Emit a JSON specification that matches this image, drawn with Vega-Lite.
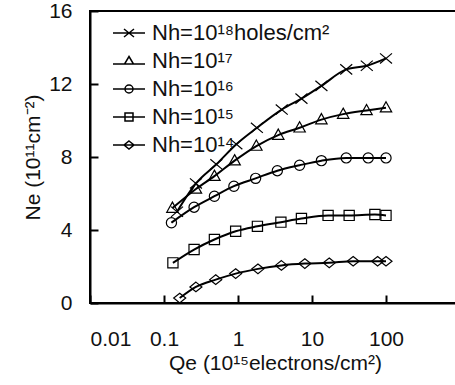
{
  "$schema": "https://vega.github.io/schema/vega-lite/v6.json",
  "width": 370,
  "height": 292,
  "autosize": {"type": "none"},
  "padding": {"left": 90, "top": 11, "right": 0, "bottom": 82},
  "background": "white",
  "data": {
    "values": [
      {"Nh": "Nh=10¹⁸holes/cm²", "Qe": 0.15, "Ne": 5.0},
      {"Nh": "Nh=10¹⁸holes/cm²", "Qe": 0.27, "Ne": 6.55},
      {"Nh": "Nh=10¹⁸holes/cm²", "Qe": 0.51, "Ne": 7.6},
      {"Nh": "Nh=10¹⁸holes/cm²", "Qe": 0.95, "Ne": 8.7},
      {"Nh": "Nh=10¹⁸holes/cm²", "Qe": 1.8, "Ne": 9.6},
      {"Nh": "Nh=10¹⁸holes/cm²", "Qe": 3.9, "Ne": 10.6},
      {"Nh": "Nh=10¹⁸holes/cm²", "Qe": 7.2, "Ne": 11.2},
      {"Nh": "Nh=10¹⁸holes/cm²", "Qe": 13.4, "Ne": 11.9},
      {"Nh": "Nh=10¹⁸holes/cm²", "Qe": 29, "Ne": 12.8},
      {"Nh": "Nh=10¹⁸holes/cm²", "Qe": 55, "Ne": 13.0},
      {"Nh": "Nh=10¹⁸holes/cm²", "Qe": 100, "Ne": 13.4},
      {"Nh": "Nh=10¹⁷", "Qe": 0.13, "Ne": 5.2},
      {"Nh": "Nh=10¹⁷", "Qe": 0.27, "Ne": 6.25},
      {"Nh": "Nh=10¹⁷", "Qe": 0.48, "Ne": 6.95},
      {"Nh": "Nh=10¹⁷", "Qe": 0.9, "Ne": 7.8},
      {"Nh": "Nh=10¹⁷", "Qe": 1.77, "Ne": 8.6},
      {"Nh": "Nh=10¹⁷", "Qe": 3.5, "Ne": 9.2},
      {"Nh": "Nh=10¹⁷", "Qe": 6.8, "Ne": 9.6},
      {"Nh": "Nh=10¹⁷", "Qe": 13.4, "Ne": 10.05},
      {"Nh": "Nh=10¹⁷", "Qe": 26.4, "Ne": 10.35},
      {"Nh": "Nh=10¹⁷", "Qe": 54.6, "Ne": 10.55},
      {"Nh": "Nh=10¹⁷", "Qe": 100, "Ne": 10.7},
      {"Nh": "Nh=10¹⁶", "Qe": 0.126, "Ne": 4.4},
      {"Nh": "Nh=10¹⁶", "Qe": 0.255, "Ne": 5.25},
      {"Nh": "Nh=10¹⁶", "Qe": 0.48, "Ne": 5.85},
      {"Nh": "Nh=10¹⁶", "Qe": 0.88, "Ne": 6.4},
      {"Nh": "Nh=10¹⁶", "Qe": 1.73, "Ne": 6.83},
      {"Nh": "Nh=10¹⁶", "Qe": 3.4, "Ne": 7.25},
      {"Nh": "Nh=10¹⁶", "Qe": 6.8, "Ne": 7.55},
      {"Nh": "Nh=10¹⁶", "Qe": 13.4, "Ne": 7.8},
      {"Nh": "Nh=10¹⁶", "Qe": 29, "Ne": 7.95},
      {"Nh": "Nh=10¹⁶", "Qe": 57.5, "Ne": 7.95},
      {"Nh": "Nh=10¹⁶", "Qe": 100, "Ne": 7.95},
      {"Nh": "Nh=10¹⁵", "Qe": 0.132, "Ne": 2.2},
      {"Nh": "Nh=10¹⁵", "Qe": 0.255, "Ne": 2.93},
      {"Nh": "Nh=10¹⁵", "Qe": 0.48, "Ne": 3.48},
      {"Nh": "Nh=10¹⁵", "Qe": 0.93, "Ne": 3.93},
      {"Nh": "Nh=10¹⁵", "Qe": 1.83, "Ne": 4.2},
      {"Nh": "Nh=10¹⁵", "Qe": 3.8, "Ne": 4.43},
      {"Nh": "Nh=10¹⁵", "Qe": 7.2, "Ne": 4.63},
      {"Nh": "Nh=10¹⁵", "Qe": 16.5, "Ne": 4.8},
      {"Nh": "Nh=10¹⁵", "Qe": 31.8, "Ne": 4.8},
      {"Nh": "Nh=10¹⁵", "Qe": 70.8, "Ne": 4.85},
      {"Nh": "Nh=10¹⁵", "Qe": 100, "Ne": 4.8},
      {"Nh": "Nh=10¹⁴", "Qe": 0.163, "Ne": 0.27},
      {"Nh": "Nh=10¹⁴", "Qe": 0.27, "Ne": 0.88},
      {"Nh": "Nh=10¹⁴", "Qe": 0.5, "Ne": 1.28},
      {"Nh": "Nh=10¹⁴", "Qe": 0.93, "Ne": 1.61},
      {"Nh": "Nh=10¹⁴", "Qe": 1.86, "Ne": 1.87},
      {"Nh": "Nh=10¹⁴", "Qe": 3.86, "Ne": 2.06},
      {"Nh": "Nh=10¹⁴", "Qe": 8, "Ne": 2.16},
      {"Nh": "Nh=10¹⁴", "Qe": 17.1, "Ne": 2.2},
      {"Nh": "Nh=10¹⁴", "Qe": 36, "Ne": 2.29},
      {"Nh": "Nh=10¹⁴", "Qe": 77, "Ne": 2.29},
      {"Nh": "Nh=10¹⁴", "Qe": 100, "Ne": 2.29}
    ]
  },
  "encoding": {
    "x": {
      "field": "Qe", "type": "quantitative",
      "scale": {"type": "log", "domain": [0.01, 1000], "nice": false},
      "axis": {
        "title": "Qe (10¹⁵electrons/cm²)",
        "values": [0.01, 0.1, 1, 10, 100],
        "labelExpr": "'' + datum.value",
        "labelPadding": 33,
        "titlePadding": 3
      }
    },
    "y": {
      "field": "Ne", "type": "quantitative",
      "scale": {"domain": [0, 16], "nice": false},
      "axis": {
        "title": "Ne (10¹¹cm⁻²)",
        "values": [0, 4, 8, 12, 16],
        "labelPadding": 26,
        "titlePadding": 5
      }
    }
  },
  "layer": [
    {
      "mark": {"type": "line", "interpolate": "monotone", "color": "black", "strokeWidth": 2},
      "encoding": {"detail": {"field": "Nh"}}
    },
    {
      "mark": {"type": "point", "filled": false, "stroke": "black", "strokeWidth": 1.2, "size": 144, "opacity": 1},
      "encoding": {
        "shape": {
          "field": "Nh", "type": "nominal", "legend": null,
          "scale": {
            "domain": ["Nh=10¹⁸holes/cm²", "Nh=10¹⁷", "Nh=10¹⁶", "Nh=10¹⁵", "Nh=10¹⁴"],
            "range": [
              "M-1,-0.85L1,0.85M-1,0.85L1,-0.85",
              "M0,-1L0.95,0.7L-0.95,0.7Z",
              "M-0.85,0A0.85,0.85 0 1,0 0.85,0A0.85,0.85 0 1,0 -0.85,0Z",
              "M-0.85,-0.85H0.85V0.85H-0.85Z",
              "M0,-0.8L1,0L0,0.8L-1,0Z"
            ]
          }
        }
      }
    },
    {
      "mark": {"type": "point", "filled": false, "stroke": "black", "strokeWidth": 1.5, "size": 400, "opacity": 0},
      "encoding": {
        "shape": {
          "field": "Nh", "type": "nominal",
          "scale": {
            "domain": ["Nh=10¹⁸holes/cm²", "Nh=10¹⁷", "Nh=10¹⁶", "Nh=10¹⁵", "Nh=10¹⁴"],
            "range": [
              "M-1.6,0H1.6M-0.5,-0.4L0.5,0.4M-0.5,0.4L0.5,-0.4",
              "M-1.6,0.3H1.6M0,-0.45L0.45,0.3L-0.45,0.3Z",
              "M-1.6,0H1.6M-0.4,0A0.4,0.4 0 1,0 0.4,0A0.4,0.4 0 1,0 -0.4,0Z",
              "M-1.6,0H1.6M-0.4,-0.4H0.4V0.4H-0.4Z",
              "M-1.6,0H1.6M0,-0.4L0.5,0L0,0.4L-0.5,0Z"
            ]
          },
          "legend": {
            "title": null,
            "orient": "none",
            "legendX": 28,
            "legendY": 11,
            "padding": 0,
            "symbolSize": 400,
            "symbolOpacity": 1,
            "symbolStrokeColor": "black",
            "symbolStrokeWidth": 1.5,
            "symbolFillColor": "transparent",
            "labelFont": "Liberation Sans",
            "labelFontSize": 22,
            "labelColor": "#111",
            "labelOffset": 12,
            "labelLimit": 400,
            "rowPadding": 6
          }
        }
      }
    }
  ],
  "resolve": {"scale": {"shape": "independent"}},
  "config": {
    "view": {"stroke": "black", "strokeWidth": 2},
    "axis": {
      "grid": false,
      "domainColor": "black",
      "domainWidth": 2,
      "tickColor": "black",
      "tickWidth": 2,
      "tickSize": -8,
      "labelFont": "Liberation Sans",
      "labelFontSize": 21,
      "labelColor": "#111",
      "titleFont": "Liberation Sans",
      "titleFontSize": 21,
      "titleFontWeight": "normal",
      "titleColor": "#111"
    }
  }
}
